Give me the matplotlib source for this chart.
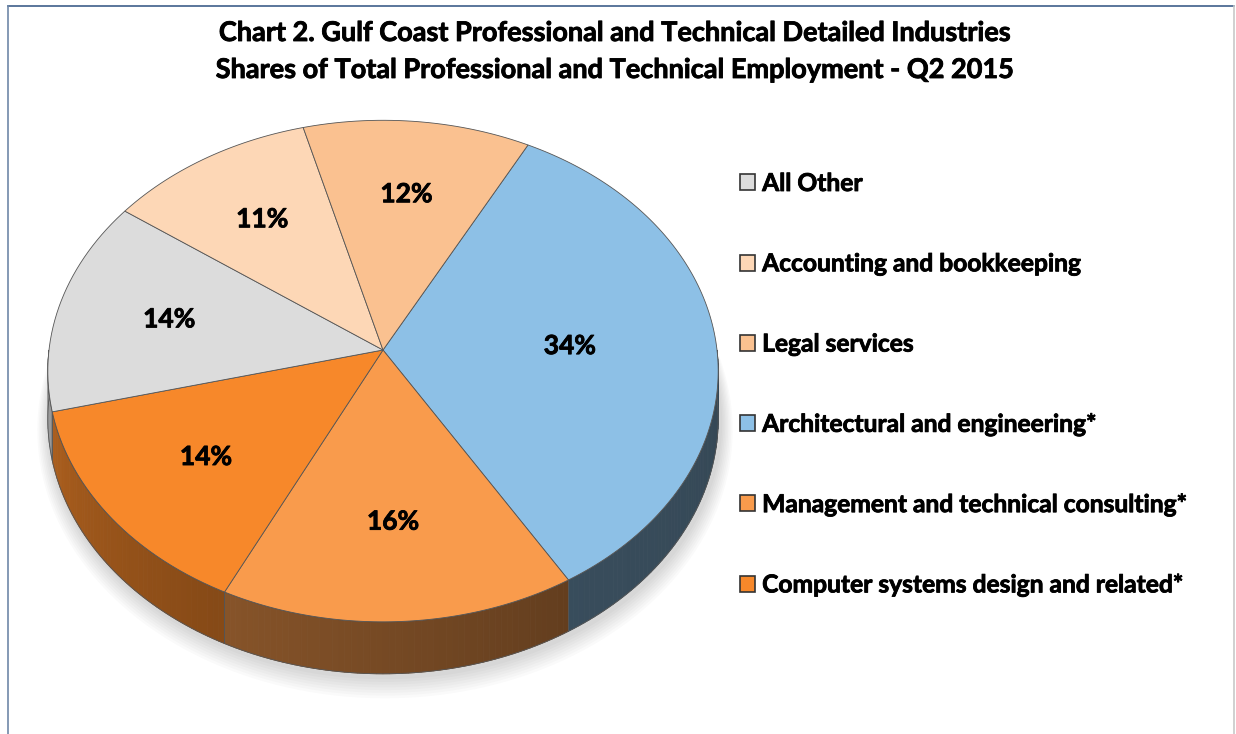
import numpy as np
import matplotlib.pyplot as plt
import matplotlib.colors as mcolors
import matplotlib.patheffects as pe
from matplotlib.transforms import Transform, Affine2D
from matplotlib.path import Path
from matplotlib.patches import Polygon, Rectangle
from matplotlib.lines import Line2D

# slices, clockwise from the blue one
industries = ["Architectural and engineering*",
              "Management and technical consulting*",
              "Computer systems design and related*",
              "All Other",
              "Accounting and bookkeeping",
              "Legal services"]
shares = [34, 16, 14, 14, 11, 12]
top_colors = ["#8dc0e6", "#f99b4c", "#f7882a", "#dcdcdc", "#fdd7b6", "#fac190"]

legend_order = ["All Other",
                "Accounting and bookkeeping",
                "Legal services",
                "Architectural and engineering*",
                "Management and technical consulting*",
                "Computer systems design and related*"]

title_lines = ["Chart 2. Gulf Coast Professional and Technical Detailed Industries",
               "Shares of Total Professional and Technical Employment - Q2 2015"]

W, H = 1236, 734
FONT = "Lato"
heavy = [pe.withStroke(linewidth=0.6, foreground="black")]


class Tilt(Transform):
    """Unit-circle pie coordinates -> tilted disc in pixel space (slight perspective)."""
    input_dims = output_dims = 2
    is_separable = False
    has_inverse = False

    def __init__(self, cx, cy, rx, ry, k, drop=0.0):
        super().__init__()
        self.cx, self.cy, self.rx, self.ry, self.k, self.drop = cx, cy, rx, ry, k, drop

    def transform_non_affine(self, xy):
        xy = np.asarray(xy, dtype=float)
        u, v = xy[..., 0], xy[..., 1]
        w = 1 + self.k * v
        return np.stack([self.cx + self.rx * u / w,
                         self.cy - self.ry * v / w + self.drop / w], axis=-1)

    def transform_path_non_affine(self, path):
        sc = 2000.0
        polys = path.to_polygons(transform=Affine2D().scale(sc), closed_only=True)
        verts, codes = [], []
        for p in polys:
            t = self.transform_non_affine(p / sc)
            c = np.full(len(t), Path.LINETO)
            c[0] = Path.MOVETO
            c[-1] = Path.CLOSEPOLY
            verts.append(t)
            codes.append(c)
        return Path(np.concatenate(verts), np.concatenate(codes))


cx, cy, rx, ry, k = 383, 350, 334, 249, 0.084
depth = 47.6
tilt = Tilt(cx, cy, rx, ry, k)
tilt_low = Tilt(cx, cy, rx, ry, k, drop=depth)

fig = plt.figure(figsize=(W / 100, H / 100), dpi=100)
ax = fig.add_axes([0, 0, 1, 1])

wedges, _ = ax.pie(shares, colors=top_colors, startangle=62.2, counterclock=False,
                   wedgeprops=dict(edgecolor="#555555", linewidth=0.6))
for w in wedges:
    w.set_transform(tilt + ax.transData)
    w.set_zorder(3)

# soft shadow under the disc
tt = np.linspace(0, 2 * np.pi, 200)
ring = np.c_[np.cos(tt), np.sin(tt)]
for i in range(8):
    sh = Tilt(cx + 2, cy, rx + 2 + i * 1.5, ry + 2 + i * 1.5, k, drop=depth + 3 + i)
    ax.add_patch(Polygon(sh.transform_non_affine(ring), closed=True, facecolor="black",
                         edgecolor="none", alpha=0.018, zorder=0.5))

# visible side walls, darker toward the right
knots = [-180, -120, -60, 0]
shade = [0.74, 0.55, 0.40, 0.37]
for w, col in zip(wedges, top_colors):
    base = np.array(mcolors.to_rgb(col))
    for off in (-360, 0, 360):
        a = max(w.theta1, -180 + off)
        b = min(w.theta2, off)
        if b - a <= 0:
            continue
        t = np.linspace(a, b, max(2, int((b - a) / 1.0) + 1))
        rad = np.radians(t)
        pts = np.c_[np.cos(rad), np.sin(rad)]
        top = tilt.transform_non_affine(pts)
        low = tilt_low.transform_non_affine(pts)
        for j in range(len(t) - 1):
            f = np.interp((t[j] + t[j + 1]) / 2 - off, knots, shade)
            c = np.clip(base * f, 0, 1)
            quad = [top[j], top[j + 1], low[j + 1], low[j]]
            ax.add_patch(Polygon(quad, closed=True, facecolor=c, edgecolor=c,
                                 linewidth=0.6, zorder=1))
        outline = np.vstack([top, low[::-1]])
        ax.add_patch(Polygon(outline, closed=True, fill=False, edgecolor="#555555",
                             linewidth=0.6, zorder=2))

# percentage labels near each slice's centroid
for w, s in zip(wedges, shares):
    mid = np.radians((w.theta1 + w.theta2) / 2)
    span = np.radians(w.theta2 - w.theta1)
    r = 1.02 * 4 * np.sin(span / 2) / (3 * span)
    ax.text(r * np.cos(mid), r * np.sin(mid), f"{s}%", transform=tilt + ax.transData,
            ha="center", va="center", fontsize=19, fontweight="bold", family=FONT,
            color="black", zorder=5, path_effects=heavy)

ax.set_aspect("auto")
ax.set_xlim(0, W)
ax.set_ylim(H, 0)
ax.axis("off")

# legend
color_of = dict(zip(industries, top_colors))
handles = [Rectangle((0, 0), 1, 1, facecolor=color_of[n], edgecolor="#333333", linewidth=1.2)
           for n in legend_order]
leg = ax.legend(handles, legend_order, loc="upper left",
                bbox_to_anchor=(740 / W, 1 - 172 / H), bbox_transform=fig.transFigure,
                frameon=False, borderpad=0, borderaxespad=0, handlelength=0.62,
                handleheight=0.62, handletextpad=0.28, labelspacing=2.33,
                prop=dict(family=FONT, weight="bold", size=17.7))
for txt in leg.get_texts():
    txt.set_path_effects(heavy)

# title
for line, y in zip(title_lines, (33, 70)):
    fig.text(615 / W, 1 - y / H, line, ha="center", va="center",
             fontsize=19.5, fontweight="bold", family=FONT, path_effects=heavy)

# chart frame
fig.add_artist(Line2D([8 / W, 1234 / W], [1 - 6 / H, 1 - 6 / H], transform=fig.transFigure,
                      color="#3e5f8a", linewidth=1.2))
fig.add_artist(Line2D([8 / W, 8 / W], [0, 1 - 6 / H], transform=fig.transFigure,
                      color="#6f88a8", linewidth=1.2))
fig.add_artist(Line2D([1234 / W, 1234 / W], [0, 1 - 6 / H], transform=fig.transFigure,
                      color="#c8c8c8", linewidth=1.2))

fig.savefig("out.png", dpi=100, facecolor="white")
